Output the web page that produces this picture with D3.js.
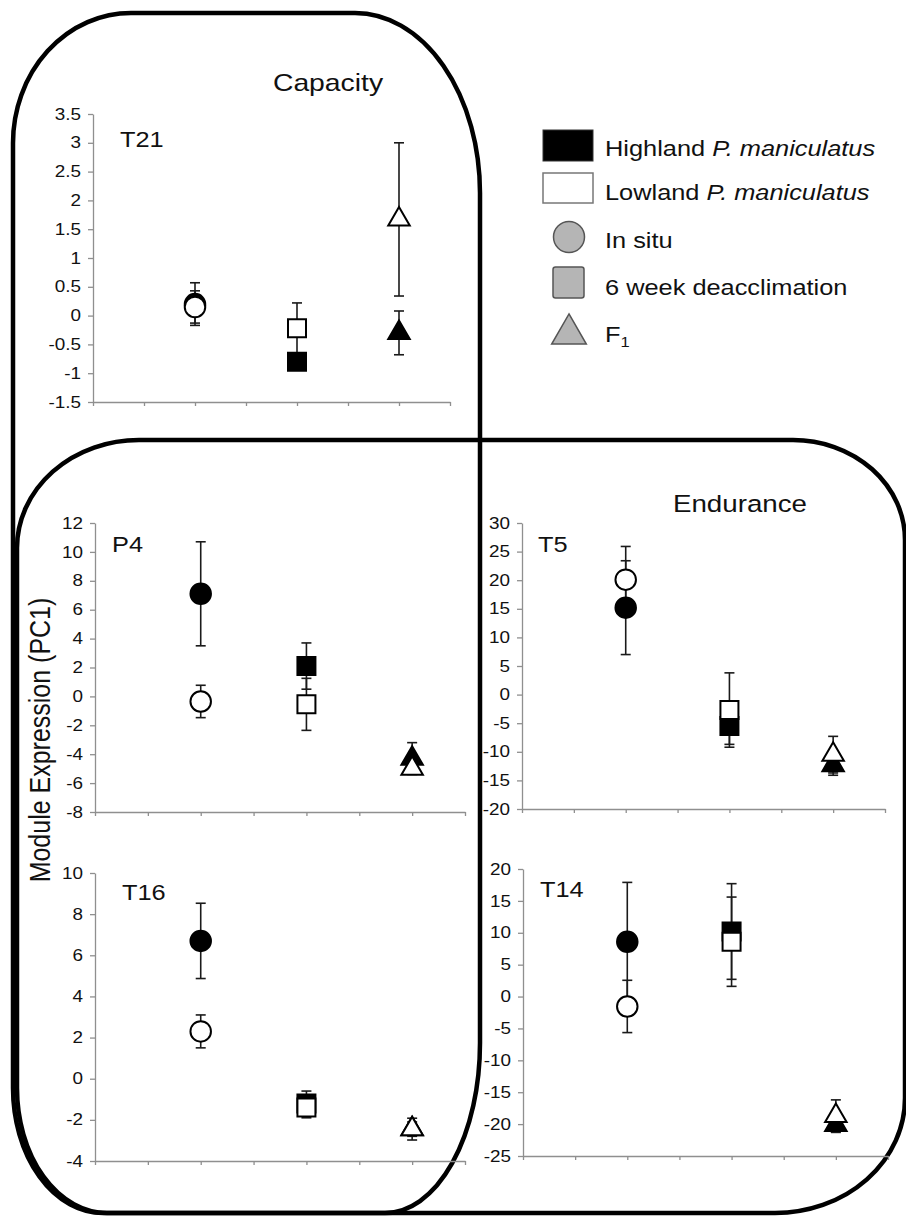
<!DOCTYPE html>
<html>
<head>
<meta charset="utf-8">
<script src="https://cdn.jsdelivr.net/npm/d3@7"></script>
<style>
  body { margin: 0; background: #fff; }
  svg { display: block; }
  text { font-family: "Liberation Sans", Arial, sans-serif; fill: #111; }
</style>
</head>
<body>
<script>

// groups along the x axis (axis runs 0..7, points sit at 2, 4, 6)
var groups = ["In situ", "6 week deacclimation", "F1"];
var groupPos = [2, 4, 6];

// T21 (capacity module)
var t21High = [0.2, -0.8, -0.3];
var t21HighErr = [0.37, 0.08, 0.38];
var t21Low = [0.15, -0.22, 1.67];
var t21LowErr = [0.28, 0.44, 1.33];
var t21Ticks = [-1.5, -1, -0.5, 0, 0.5, 1, 1.5, 2, 2.5, 3, 3.5];

// P4
var p4High = [7.1, 2.1, -4.3];
var p4HighErr = [3.6, 1.6, 1.1];
var p4Low = [-0.35, -0.55, -5.0];
var p4LowErr = [1.12, 1.8, 0.3];
var p4Ticks = [-8, -6, -4, -2, 0, 2, 4, 6, 8, 10, 12];

// T16
var t16High = [6.7, -1.2, -2.45];
var t16HighErr = [1.83, 0.6, 0.35];
var t16Low = [2.3, -1.4, -2.45];
var t16LowErr = [0.8, 0.5, 0.53];
var t16Ticks = [-4, -2, 0, 2, 4, 6, 8, 10];

// T5 (endurance)
var t5High = [15.2, -5.5, -12.3];
var t5HighErr = [8.2, 3.2, 1.8];
var t5Low = [20.1, -2.7, -10.5];
var t5LowErr = [5.8, 6.5, 3.2];
var t5Ticks = [-20, -15, -10, -5, 0, 5, 10, 15, 20, 25, 30];

// T14
var t14High = [8.6, 10.2, -20.1];
var t14HighErr = [9.3, 7.5, 1.2];
var t14Low = [-1.55, 8.6, -18.7];
var t14LowErr = [4.1, 7.0, 2.5];
var t14Ticks = [-25, -20, -15, -10, -5, 0, 5, 10, 15, 20];

var xTicks = [0, 1, 2, 3, 4, 5, 6, 7];

var W = 906, H = 1217;
var SX = 1.18; // the figure is a bit stretched sideways, text too

var svg = d3.select("body").append("svg")
  .attr("width", W)
  .attr("height", H);

svg.append("rect").attr("width", W).attr("height", H).attr("fill", "#fff");

// rounded outline with its own radii per corner: [tl, tr, br, bl], each [rx, ry]
function boxPath(x0, y0, x1, y1, r) {
  var tl = r[0], tr = r[1], br = r[2], bl = r[3];
  return "M" + (x0 + tl[0]) + "," + y0 +
    "H" + (x1 - tr[0]) +
    "A" + tr[0] + "," + tr[1] + " 0 0 1 " + x1 + "," + (y0 + tr[1]) +
    "V" + (y1 - br[1]) +
    "A" + br[0] + "," + br[1] + " 0 0 1 " + (x1 - br[0]) + "," + y1 +
    "H" + (x0 + bl[0]) +
    "A" + bl[0] + "," + bl[1] + " 0 0 1 " + x0 + "," + (y1 - bl[1]) +
    "V" + (y0 + tl[1]) +
    "A" + tl[0] + "," + tl[1] + " 0 0 1 " + (x0 + tl[0]) + "," + y0 + "Z";
}

var stretchText = function(g, x, y, txt, size, anchor) {
  return g.append("text")
    .attr("transform", "translate(" + x + "," + y + ") scale(" + SX + ",1)")
    .attr("text-anchor", anchor || "start")
    .style("font-size", size + "px")
    .text(txt);
};

// capacity box (tall) and endurance box (wide)
svg.append("path")
  .attr("d", boxPath(13, 13, 480, 1213, [[118, 130], [125, 180], [95, 170], [90, 125]]))
  .attr("fill", "none").attr("stroke", "#000").attr("stroke-width", 4.5);

svg.append("path")
  .attr("d", boxPath(17, 440, 905, 1213, [[122, 108], [112, 100], [130, 115], [90, 125]]))
  .attr("fill", "none").attr("stroke", "#000").attr("stroke-width", 4.5);

stretchText(svg, 328, 91, "Capacity", 24, "middle");
stretchText(svg, 740, 512, "Endurance", 23.5, "middle");

// y axis title, shared
svg.append("text")
  .attr("transform", "translate(50,740) scale(" + SX + ",1) rotate(-90)")
  .attr("text-anchor", "middle")
  .style("font-size", "25px")
  .text("Module Expression (PC1)");

var panels = [
  {name: "T21", high: t21High, highErr: t21HighErr, low: t21Low, lowErr: t21LowErr, ticks: t21Ticks,
   x0: 93, x1: 450, yTop: 114, yBot: 402, lx: 120, ly: 147},
  {name: "P4", high: p4High, highErr: p4HighErr, low: p4Low, lowErr: p4LowErr, ticks: p4Ticks,
   x0: 95, x1: 465, yTop: 523, yBot: 812, lx: 112, ly: 552},
  {name: "T16", high: t16High, highErr: t16HighErr, low: t16Low, lowErr: t16LowErr, ticks: t16Ticks,
   x0: 95, x1: 465, yTop: 873, yBot: 1161, lx: 122, ly: 900},
  {name: "T5", high: t5High, highErr: t5HighErr, low: t5Low, lowErr: t5LowErr, ticks: t5Ticks,
   x0: 522, x1: 885, yTop: 523, yBot: 809, lx: 538, ly: 552},
  {name: "T14", high: t14High, highErr: t14HighErr, low: t14Low, lowErr: t14LowErr, ticks: t14Ticks,
   x0: 523, x1: 888, yTop: 869, yBot: 1156, lx: 540, ly: 897}
];

var shapes = [d3.symbolCircle, d3.symbolSquare, d3.symbolTriangle];
var shapeSize = [330, 324, 200];

function drawPanel(p) {
  var g = svg.append("g").attr("class", "panel_" + p.name);

  var x = d3.scaleLinear().domain([0, 7]).range([p.x0, p.x1]);
  var y = d3.scaleLinear().domain(d3.extent(p.ticks)).range([p.yBot, p.yTop]);

  // y axis
  var ya = g.append("g")
    .attr("transform", "translate(" + p.x0 + ",0)")
    .call(d3.axisLeft(y).tickValues(p.ticks).tickFormat(function(d) { return String(d); })
      .tickSize(5).tickSizeOuter(0));
  ya.selectAll("text")
    .attr("x", -12 / SX)
    .attr("transform", "scale(" + SX + ",1)")
    .style("font-size", "16px")
    .style("font-family", "'Liberation Sans', Arial, sans-serif")
    .attr("fill", "#222");

  // x axis, no labels
  g.append("g")
    .attr("transform", "translate(0," + p.yBot + ")")
    .call(d3.axisBottom(x).tickValues(xTicks).tickFormat("").tickSize(4).tickSizeOuter(0));

  g.selectAll(".domain, .tick line").attr("stroke", "#8f8f8f").attr("stroke-width", 1.3);

  stretchText(g, p.lx, p.ly, p.name, 21.5, "start");

  var series = [
    {vals: p.high, errs: p.highErr, fill: "#000"},
    {vals: p.low, errs: p.lowErr, fill: "#fff"}
  ];

  // error bars first, under the markers
  series.forEach(function(s) {
    s.vals.forEach(function(v, i) {
      var cx = x(groupPos[i]);
      var lo = y(v - s.errs[i]), hi = y(v + s.errs[i]);
      g.append("line").attr("x1", cx).attr("x2", cx).attr("y1", lo).attr("y2", hi)
        .attr("stroke", "#1a1a1a").attr("stroke-width", 1.6);
      [lo, hi].forEach(function(yy) {
        g.append("line").attr("x1", cx - 5).attr("x2", cx + 5).attr("y1", yy).attr("y2", yy)
          .attr("stroke", "#1a1a1a").attr("stroke-width", 1.6);
      });
    });
  });

  series.forEach(function(s) {
    s.vals.forEach(function(v, i) {
      g.append("path")
        .attr("d", d3.symbol().type(shapes[i]).size(shapeSize[i])())
        .attr("transform", "translate(" + x(groupPos[i]) + "," + y(v) + ")")
        .attr("fill", s.fill)
        .attr("stroke", "#000")
        .attr("stroke-width", 2);
    });
  });
}

panels.forEach(drawPanel);

// legend
var leg = svg.append("g").attr("class", "legend");

leg.append("rect").attr("x", 543).attr("y", 130).attr("width", 50).attr("height", 31)
  .attr("fill", "#000").attr("stroke", "#333").attr("stroke-width", 1);
leg.append("rect").attr("x", 543).attr("y", 173).attr("width", 50).attr("height", 30)
  .attr("fill", "#fff").attr("stroke", "#777").attr("stroke-width", 1.5);
leg.append("circle").attr("cx", 569).attr("cy", 237).attr("r", 15.5)
  .attr("fill", "#b5b5b5").attr("stroke", "#555").attr("stroke-width", 1.5);
leg.append("rect").attr("x", 553).attr("y", 267).attr("width", 31).attr("height", 31).attr("rx", 2.5)
  .attr("fill", "#b5b5b5").attr("stroke", "#555").attr("stroke-width", 1.5);
leg.append("path")
  .attr("d", d3.symbol().type(d3.symbolTriangle).size(520)())
  .attr("transform", "translate(569,334)")
  .attr("fill", "#b5b5b5").attr("stroke", "#555").attr("stroke-width", 1.5);

var t1 = stretchText(leg, 605, 156, "Highland ", 21.5, "start");
t1.append("tspan").style("font-style", "italic").text("P. maniculatus");
var t2 = stretchText(leg, 605, 200, "Lowland ", 21.5, "start");
t2.append("tspan").style("font-style", "italic").text("P. maniculatus");
stretchText(leg, 605, 248, groups[0], 21.5, "start");
stretchText(leg, 605, 295, groups[1], 21.5, "start");
var t5 = stretchText(leg, 605, 342, "F", 21.5, "start");
t5.append("tspan").attr("dy", 5).style("font-size", "14px").text("1");

</script>
</body>
</html>
